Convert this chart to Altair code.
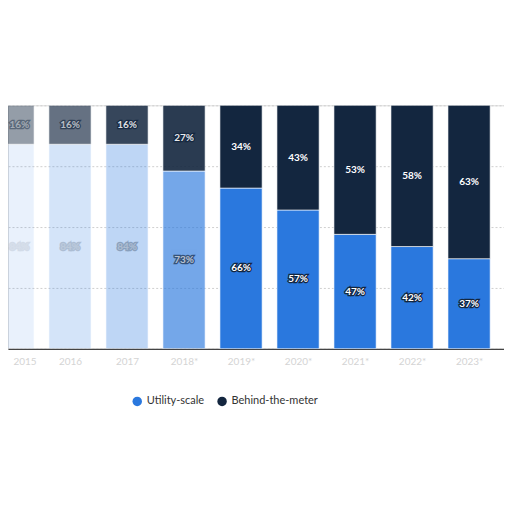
import json
import altair as alt
import pandas as pd

years = ["2015", "2016", "2017", "2018*", "2019*", "2020*", "2021*", "2022*", "2023*"]
utility = [84, 84, 84, 73, 66, 57, 47, 42, 37]
behind = [16, 16, 16, 27, 34, 43, 53, 58, 63]
series = ["Utility-scale", "Behind-the-meter"]
colors = ["#2a78de", "#13263f"]

# styling only: the reference fades out towards the left edge
fade_util = [0.10, 0.20, 0.30, 0.65, 1, 1, 1, 1, 1]
fade_behind = [0.45, 0.65, 0.85, 0.9, 1, 1, 1, 1, 1]

X_DOMAIN = [-0.0875, 8.6127]

rows = []
for i, y in enumerate(years):
    u, b = utility[i], behind[i]
    rows.append(dict(idx=i, year=y, series=series[0], lo=0, hi=u, val=u, op=fade_util[i]))
    rows.append(dict(idx=i, year=y, series=series[1], lo=u, hi=u + b, val=b, op=fade_behind[i]))
df = pd.DataFrame(rows)
df["x0"] = df["idx"] - 0.37
df["x1"] = df["idx"] + 0.37
df["mid"] = (df["lo"] + df["hi"]) / 2
df["lab"] = df["val"].astype(str) + "%"
# keep labels of the partly hidden first column inside the visible plot
df["tx"] = df["idx"].clip(lower=X_DOMAIN[0] + 0.2)

xscale = alt.Scale(domain=X_DOMAIN, nice=False, zero=False)
yscale = alt.Scale(domain=[0, 100], nice=False)
label_expr = json.dumps(years) + "[datum.value]"

base = alt.Chart(df)

bars = base.mark_bar(clip=True, stroke="#ffffff", strokeWidth=0.6).encode(
    x=alt.X("x0:Q", scale=xscale,
            axis=alt.Axis(values=list(range(len(years))), labelExpr=label_expr, title=None,
                          grid=False, ticks=False, domainColor="#444", domainWidth=1.2,
                          labelColor="#d4d4d4", labelFont="Lato", labelFontSize=10,
                          labelPadding=8,
                          labelAlign=alt.condition("datum.value == 0", alt.value("left"), alt.value("center")))),
    x2="x1:Q",
    y=alt.Y("lo:Q", scale=yscale,
            axis=alt.Axis(values=[0, 25, 50, 75, 100], labels=False, ticks=False, domain=False,
                          title=None, grid=True, gridDash=[2, 2], gridColor="#cfcfcf")),
    y2="hi:Q",
    color=alt.Color("series:N", scale=alt.Scale(domain=series, range=colors),
                    legend=alt.Legend(title=None, orient="none", direction="horizontal",
                                      legendX=124, legendY=291, symbolType="circle",
                                      symbolSize=90, labelFont="Lato", labelFontSize=11,
                                      labelColor="#333", columnPadding=12, symbolStrokeWidth=0)),
    opacity=alt.Opacity("op:Q", scale=None, legend=None),
)

outline = base.mark_text(clip=True, font="Lato", fontSize=10, fontWeight="bold",
                         stroke="#13263f", strokeWidth=2.5, fill="#13263f").encode(
    x=alt.X("tx:Q", scale=xscale), y=alt.Y("mid:Q", scale=yscale), text="lab:N",
    opacity=alt.Opacity("op:Q", scale=None, legend=None),
)
labels = base.mark_text(clip=True, font="Lato", fontSize=10, fontWeight="bold",
                        color="#ffffff").encode(
    x=alt.X("tx:Q", scale=xscale), y=alt.Y("mid:Q", scale=yscale), text="lab:N",
    opacity=alt.Opacity("op:Q", scale=None, legend=None),
)

chart = alt.layer(bars, outline, labels).properties(
    width=497, height=244,
    autosize=alt.AutoSizeParams(type="none"),
    padding={"left": 0, "top": 97, "right": 0, "bottom": 150},
).configure_view(stroke="#dddddd", strokeWidth=1).configure(background="#ffffff")

chart.save("out.html", embed_options={"renderer": "svg", "actions": False})
